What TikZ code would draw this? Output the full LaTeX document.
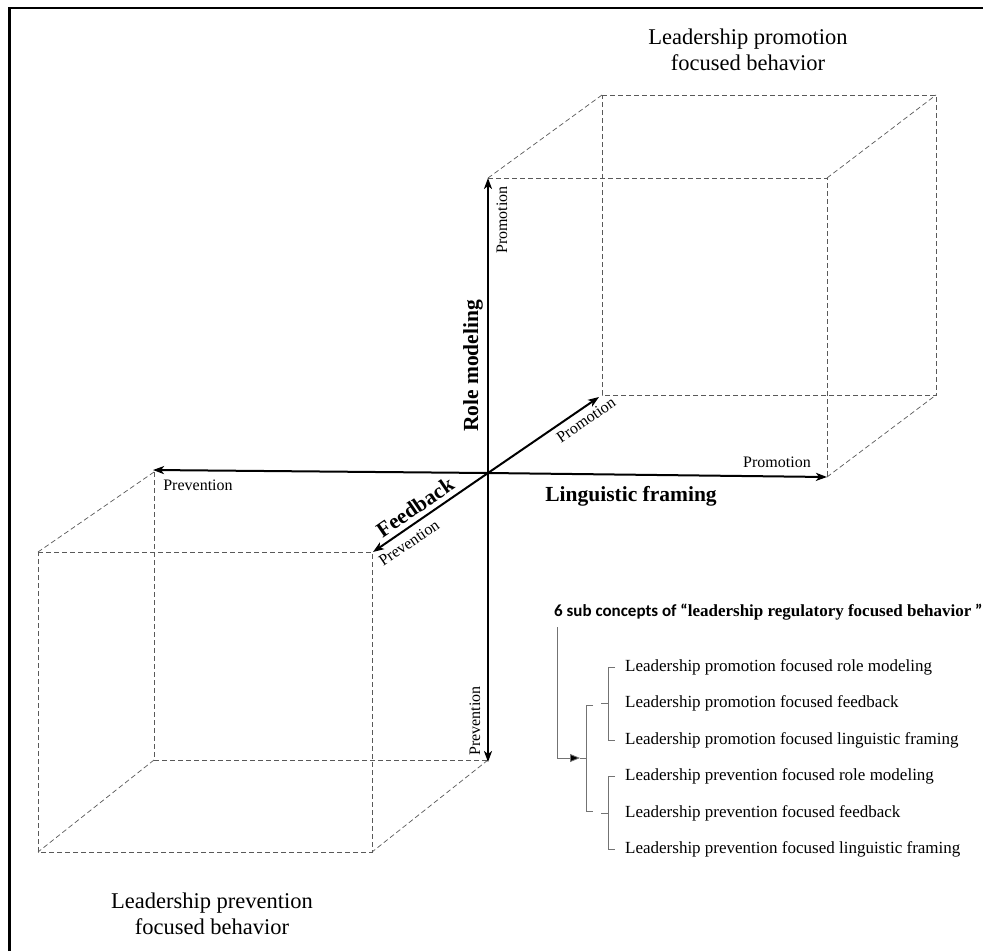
\documentclass[tikz,border=0pt]{standalone}
\usepackage{fontspec}
\setmainfont{Liberation Serif}
\newfontfamily\calib{Carlito}
\usetikzlibrary{arrows.meta}
\begin{document}
\begin{tikzpicture}[x=1pt,y=-1pt,
  axis/.style={line width=2pt, -{Stealth[length=11pt,width=8pt,inset=3pt]}},
  cubeline/.style={dash pattern=on 5pt off 3pt, line width=0.7pt, draw=black!65},
  small/.style={font=\fontsize{16}{18}\selectfont, inner sep=0pt},
  axtitle/.style={font=\fontsize{21.5}{24}\selectfont\bfseries, inner sep=0pt},
  corner/.style={font=\fontsize{22.5}{25.5}\selectfont, align=center, inner sep=0pt},
  item/.style={font=\fontsize{17}{19}\selectfont, anchor=west, inner sep=0pt},
  brk/.style={draw=black!55, line width=0.8pt},
]
\useasboundingbox[fill=white] (0,0) rectangle (983,951);
% frame (top and left only)
\draw[line width=2.5pt] (9.7,951) -- (9.7,8) -- (983,8);

% axis coordinates
\coordinate (O) at (488,473);
\coordinate (Rt) at (827,477);
\coordinate (Lt) at (153,470);
\coordinate (Up) at (488,178);
\coordinate (Dn) at (488,762);
\coordinate (Dg) at (599,397);
\coordinate (Dl) at (373,552);

% upper cube
\coordinate (A1) at (488,178);
\coordinate (A2) at (827,178);
\coordinate (A3) at (827,477);
\coordinate (B1) at (602,95);
\coordinate (B2) at (936,95);
\coordinate (B3) at (936,395);
\coordinate (B4) at (602,395);
\draw[cubeline] (A1) -- (A2) -- (A3);
\draw[cubeline] (B1) -- (B2) -- (B3) -- (B4) -- cycle;
\draw[cubeline] (A1) -- (B1);
\draw[cubeline] (A2) -- (B2);
\draw[cubeline] (A3) -- (B3);

% lower cube
\coordinate (C1) at (154,472);
\coordinate (C2) at (154,760);
\coordinate (C3) at (488,760);
\coordinate (D1) at (38,552);
\coordinate (D2) at (372,552);
\coordinate (D3) at (372,852);
\coordinate (D4) at (38,852);
\draw[cubeline] (C1) -- (C2) -- (C3);
\draw[cubeline] (D1) -- (D2) -- (D3) -- (D4) -- cycle;
\draw[cubeline] (C1) -- (D1);
\draw[cubeline] (C2) -- (D4);
\draw[cubeline] (C3) -- (D3);

% axes
\draw[axis] (O) -- (Up);
\draw[axis] (O) -- (Dn);
\draw[axis] (O) -- (Rt);
\draw[axis] (O) -- (Lt);
\draw[axis] (O) -- (Dg);
\draw[axis] (O) -- (Dl);

% axis labels
\node[small, rotate=90] (pu) at (502,220) {Promotion};
\node[axtitle, rotate=90] (rm) at (473,366) {Role modeling};
\node[small, rotate=34.4] (pd) at (586,420) {Promotion};
\node[small] (pr) at (777,462) {Promotion};
\node[axtitle] (lf) at (631,496) {Linguistic framing};
\node[small] (vl) at (198,485) {Prevention};
\node[axtitle, rotate=34.4] (fb) at (415,507) {Feedback};
\node[small, rotate=34.4] (vd) at (409,543) {Prevention};
\node[small, rotate=90] (vb) at (475,721) {Prevention};

\node[corner] (ctop) at (748,50) {Leadership promotion\\focused behavior};
\node[corner] (cbot) at (212,914) {Leadership prevention\\focused behavior};

% legend
\node[anchor=west, inner sep=0pt, font=\fontsize{17}{19}\selectfont] (title) at (554,612)
  {{\calib\bfseries 6 sub concepts of “}\textbf{leadership regulatory focused behavior}{\calib\bfseries\ ”}};
\node[item] (i1) at (625,667) {Leadership promotion focused role modeling};
\node[item] (i2) at (625,703.5) {Leadership promotion focused feedback};
\node[item] (i3) at (625,740) {Leadership promotion focused linguistic framing};
\node[item] (i4) at (625,776.5) {Leadership prevention focused role modeling};
\node[item] (i5) at (625,813) {Leadership prevention focused feedback};
\node[item] (i6) at (625,849.5) {Leadership prevention focused linguistic framing};

% sub brackets
\draw[brk] (615,667) -- (608,667) -- (608,740) -- (615,740);
\draw[brk] (601,703.5) -- (608,703.5);
\draw[brk] (615,776.5) -- (608,776.5) -- (608,849.5) -- (615,849.5);
\draw[brk] (601,813) -- (608,813);
% main bracket
\draw[brk] (593,705) -- (586,705) -- (586,811) -- (593,811);
\draw[brk] (580,758) -- (586,758);
% arrow from title
\coordinate (t0) at (557,627);
\coordinate (t1) at (557,758);
\coordinate (t2) at (580,758);
\draw[brk, -{Triangle[length=10pt,width=8pt,fill=black]}] (t0) -- (t1) -- (t2);
\end{tikzpicture}
\end{document}
